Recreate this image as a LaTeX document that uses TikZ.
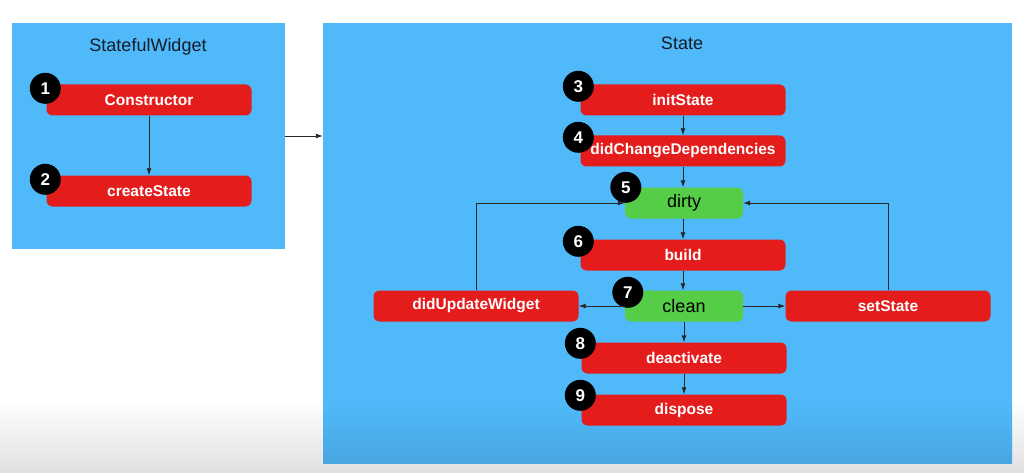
\documentclass[tikz,border=0pt]{standalone}
\usepackage{fontspec}
\setmainfont{Liberation Sans}
\usetikzlibrary{arrows.meta}
\definecolor{panelblue}{RGB}{80,185,250}
\definecolor{paneldark}{RGB}{72,166,224}
\definecolor{boxred}{RGB}{228,28,28}
\definecolor{boxgreen}{RGB}{86,205,70}
\definecolor{titleink}{RGB}{18,28,42}
\begin{document}
\begin{tikzpicture}[x=1pt,y=-1pt,
  panel/.style={fill=panelblue, inner sep=0pt},
  redbox/.style={fill=boxred, rounded corners=6pt, minimum width=205pt, minimum height=31pt,
    inner sep=0pt, text=white, font=\bfseries\fontsize{15.5}{18}\selectfont},
  greenbox/.style={fill=boxgreen, rounded corners=6pt, minimum width=118pt, minimum height=31pt,
    inner sep=0pt, text=black, font=\fontsize{18}{21}\selectfont},
  badge/.style={circle, fill=black, minimum size=31pt, inner sep=0pt, text=white,
    font=\bfseries\fontsize{17}{19}\selectfont},
  paneltitle/.style={text=titleink, font=\fontsize{18}{21}\selectfont},
  arr/.style={-{Latex[length=7pt,width=5pt]}, line width=0.9pt, black!85}]
  \useasboundingbox (0,0) rectangle (1024,473);
  \fill[white] (0,0) rectangle (1024,473);
  \shade[top color=white, bottom color=black!12] (0,400) rectangle (1024,473);
  \node[panel, minimum width=273pt, minimum height=226pt] (swpanel) at (148.5,136) {};
  \node[panel, minimum width=689pt, minimum height=440pt] (stpanel) at (667.5,243) {};
  \shade[top color=panelblue, bottom color=paneldark] (323,405) rectangle (1012,463);
  \node[paneltitle] (swtitle) at (148,47) {StatefulWidget};
  \node[paneltitle] (sttitle) at (682,43) {State};
  \node[redbox] (ctor) at (149,100) {Constructor};
  \node[redbox] (create) at (149,191) {createState};
  \node[redbox] (init) at (683,100) {initState};
  \node[redbox] (deps) at (683,151) {didChangeDependencies};
  \node[greenbox] (dirty) at (684,203) {dirty};
  \node[redbox] (build) at (683,255) {build};
  \node[greenbox] (clean) at (684,306) {clean};
  \node[redbox] (update) at (476,306) {didUpdateWidget};
  \node[redbox] (setst) at (888,306) {setState};
  \node[redbox] (deact) at (684,358) {deactivate};
  \node[redbox] (dispose) at (684,410) {dispose};
  \node[badge] (b1) at ([shift={(-1,4)}]ctor.north west) {1};
  \node[badge] (b2) at ([shift={(-1,4)}]create.north west) {2};
  \node[badge] (b3) at ([shift={(-2,2)}]init.north west) {3};
  \node[badge] (b4) at ([shift={(-2,2)}]deps.north west) {4};
  \node[badge] (b5) at ([shift={(1,0)}]dirty.north west) {5};
  \node[badge] (b6) at ([shift={(-2,2)}]build.north west) {6};
  \node[badge] (b7) at ([shift={(3,2)}]clean.north west) {7};
  \node[badge] (b8) at ([shift={(-1,1)}]deact.north west) {8};
  \node[badge] (b9) at ([shift={(-1,1)}]dispose.north west) {9};
  \draw[arr] (ctor) -- (create);
  \draw[arr] (swpanel.east) -- (swpanel.east -| stpanel.west);
  \draw[arr] (init) -- (deps);
  \draw[arr] (deps.south) -- (deps.south |- dirty.north);
  \draw[arr] (build.north |- dirty.south) -- (build.north);
  \draw[arr] (build.south) -- (build.south |- clean.north);
  \draw[arr] (clean) -- (update);
  \draw[arr] (clean) -- (setst);
  \draw[arr] (clean) -- (deact);
  \draw[arr] (deact) -- (dispose);
  \draw[arr] (update.north) |- (dirty.west);
  \draw[arr] (setst.north) |- (dirty.east);
\end{tikzpicture}
\end{document}
